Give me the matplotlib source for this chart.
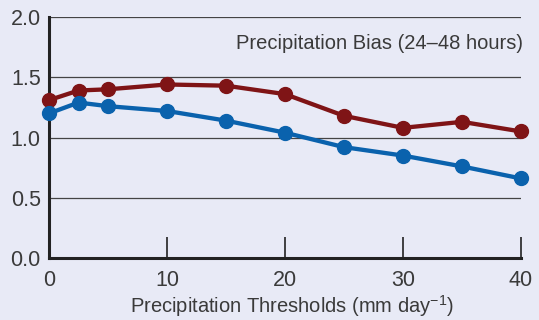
import matplotlib.pyplot as plt

# Umbrales de precipitación (mm/día)
thresholds = [0, 2.5, 5, 10, 15, 20, 25, 30, 35, 40]

# Sesgo de precipitación por serie
bias_red = [1.31, 1.39, 1.40, 1.44, 1.43, 1.36, 1.18, 1.08, 1.13, 1.05]
bias_blue = [1.20, 1.29, 1.26, 1.22, 1.14, 1.04, 0.92, 0.85, 0.76, 0.66]

y_ticks = [0.0, 0.5, 1.0, 1.5, 2.0]
x_ticks = [0, 10, 20, 30, 40]

bg = "#e8eaf6"
txt = "#3a3a3a"
plt.rcParams["font.family"] = ["Liberation Sans", "DejaVu Sans"]
plt.rcParams["mathtext.fontset"] = "custom"
plt.rcParams["mathtext.rm"] = "Liberation Sans"

fig = plt.figure(figsize=(5.39, 3.2), dpi=100, facecolor=bg)
ax = fig.add_axes([49 / 539, 1 - 258 / 320, 472 / 539, 241 / 320])
ax.set_facecolor(bg)

for y in y_ticks[1:]:
    ax.axhline(y, color="#444444", lw=0.9, zorder=1)

ax.plot(thresholds, bias_red, color="#7f1416", lw=3.1, marker="o", ms=10,
        clip_on=False, zorder=3)
ax.plot(thresholds, bias_blue, color="#0a62ad", lw=3.1, marker="o", ms=10,
        clip_on=False, zorder=3)

ax.set_xlim(0, 40)
ax.set_ylim(0, 2.0)
ax.set_xticks(x_ticks)
ax.set_yticks(y_ticks)
ax.set_yticklabels([f"{v:.1f}" for v in y_ticks])

for s in ["top", "right"]:
    ax.spines[s].set_visible(False)
for s in ["left", "bottom"]:
    ax.spines[s].set_linewidth(2.2)
    ax.spines[s].set_color("#222222")
    ax.spines[s].set_zorder(2)

ax.tick_params(axis="x", direction="in", length=15, width=1.2, color="#222222",
               labelsize=15.5, labelcolor=txt, pad=9)
ax.tick_params(axis="y", length=0, labelsize=15.5, labelcolor=txt, pad=6)

# Etiqueta del eje x colocada a mano para controlar la línea base
fig.text(292 / 539, 1 - 313 / 320, "Precipitation Thresholds (mm day$^{\\mathrm{-1}}$)",
         ha="center", va="baseline", fontsize=14.5, color=txt)
ax.text(40.15, 1.78, "Precipitation Bias (24\u201348 hours)", ha="right",
        va="center", fontsize=14.5, color=txt)

fig.savefig("out.png", dpi=100, facecolor=bg)
